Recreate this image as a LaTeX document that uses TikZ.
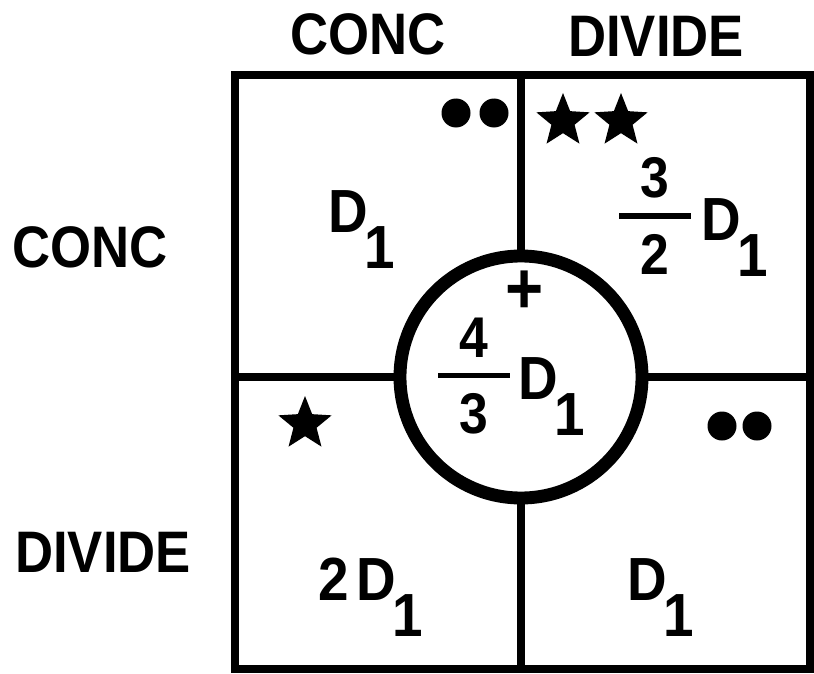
\documentclass[tikz,border=0pt]{standalone}
\usepackage{fontspec}
\setmainfont{Liberation Sans}[FakeStretch=0.9]
\usetikzlibrary{shapes.geometric}
\newcommand{\Dsub}{D\kern-0.05em\raisebox{-0.6em}{1}}
\newcommand{\frc}[2]{\vbox{\offinterlineskip\hbox to 1.25em{\hss#1\hss}\kern0.27em
  \hrule height 0.1em depth 0pt\kern0.27em\hbox to 1.25em{\hss#2\hss}}}
\tikzset{gridline/.style={line width=6.5pt},
  ring/.style={circle, draw, fill=white, line width=11pt, inner sep=0pt, minimum size=7.26cm},
  axislabel/.style={font=\fontsize{50}{50}\selectfont\bfseries, inner sep=0pt, anchor=base},
  cellval/.style={font=\fontsize{52}{52}\selectfont\bfseries, inner sep=0pt, anchor=base west},
  fracval/.style={font=\fontsize{49}{49}\selectfont\bfseries, inner sep=0pt},
  starmark/.style={star, star points=5, star point ratio=2.3, fill=black, inner sep=0pt, minimum size=1.68cm},
  dotmark/.style={circle, fill=black, inner sep=0pt, minimum size=0.87cm}}

\begin{document}
\begin{tikzpicture}[x=0.03cm, y=-0.03cm]
  \useasboundingbox (0,0) rectangle (814,674);
  % grid and ring
  \draw[gridline] (235,75) rectangle (810,669);
  \draw[gridline] (521,75) -- (521,669);
  \draw[gridline] (235,377) -- (810,377);
  \node[ring] (mid) at (521,377) {};
  % axis labels
  \node[axislabel] (colconc) at (368,55) {CONC};
  \node[axislabel] (coldiv)  at (656,56) {DIVIDE};
  \node[axislabel] (rowconc) at (90,267) {CONC};
  \node[axislabel] (rowdiv)  at (103,572) {DIVIDE};
  % cells
  \node[cellval] (valTL) at (328,232) {\Dsub};
  \node[fracval] (fracTR) at (655,216) {\frc{3}{2}};
  \node[cellval] (valTR) at (701,240) {\Dsub};
  \node[fracval] (fracC) at (474,376) {\frc{4}{3}};
  \node[cellval] (valC)  at (518,399) {\Dsub};
  \node[font=\fontsize{62}{62}\selectfont\bfseries, inner sep=0pt] (plus) at (525,292) {+};
  \node[cellval] (valBL) at (318,600) {2\kern0.12em\Dsub};
  \node[cellval] (valBR) at (627,600) {\Dsub};
  % marks
  \node[starmark] (starA) at (563,121) {};
  \node[starmark] (starB) at (621,121) {};
  \node[starmark] (starC) at (305,424) {};
  \node[dotmark] (dotA) at (456,113) {};
  \node[dotmark] (dotB) at (494,113) {};
  \node[dotmark] (dotC) at (722,426) {};
  \node[dotmark] (dotD) at (757,426) {};
\end{tikzpicture}
\end{document}
